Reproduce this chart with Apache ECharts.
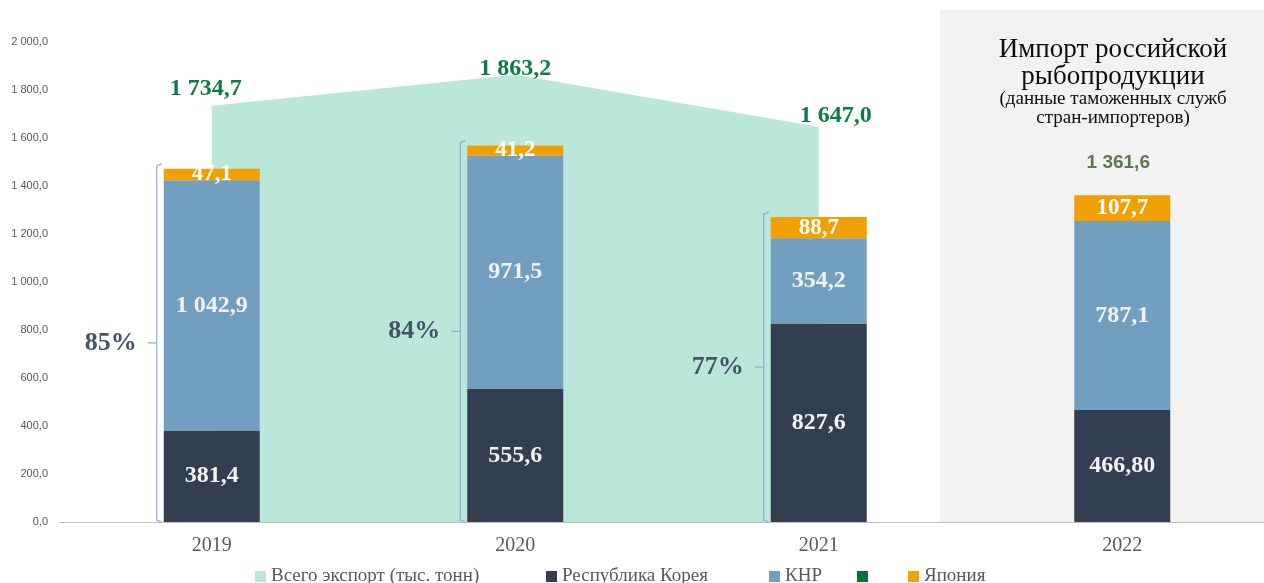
<!DOCTYPE html>
<html>
<head>
<meta charset="utf-8">
<script src="https://cdn.jsdelivr.net/npm/echarts@6/dist/echarts.min.js"></script>
<style>
  html, body { margin: 0; padding: 0; background: #fff; overflow: hidden; }
  #chart { width: 1274px; height: 583px; }
</style>
</head>
<body>
<div id="chart"></div>
<script>
const years = ['2019', '2020', '2021', '2022'];
const totalExport = [1734.7, 1863.2, 1647.0, '-'];
const korea = [381.4, 555.6, 827.6, 466.8];
const china = [1042.9, 971.5, 354.2, 787.1];
const japan = [47.1, 41.2, 88.7, 107.7];
const importTotal = ['-', '-', '-', 1361.6];
const bracketTotals = [1471.4, 1568.3, 1270.5];
const shareLabels = ['85%', '84%', '77%'];

const serif = '"Liberation Serif", "DejaVu Serif", serif';
const sans = '"Liberation Sans", Arial, sans-serif';

// "1 042,9" style numbers
function fmt(v, d) {
  const parts = Number(v).toFixed(d).split('.');
  parts[0] = parts[0].replace(/\B(?=(\d{3})+(?!\d))/g, ' ');
  return parts.join(',');
}

const barLabel = (color) => ({
  show: true,
  position: 'inside',
  color: color,
  fontFamily: serif,
  fontWeight: 'bold',
  fontSize: 24,
});

const chart = echarts.init(document.getElementById('chart'));

chart.setOption({
  animation: false,
  title: {
    text: 'Импорт российской\nрыбопродукции',
    subtext: '(данные таможенных служб\nстран-импортеров)',
    left: 1108,
    top: 31,
    textAlign: 'center',
    itemGap: 0,
    textStyle: { fontFamily: serif, fontSize: 27, fontWeight: 'normal', color: '#0d0d0d', lineHeight: 27 },
    subtextStyle: { fontFamily: serif, fontSize: 19, color: '#0d0d0d', lineHeight: 19 },
  },
  graphic: [
    { type: 'rect', z: -1, shape: { x: 940, y: 10, width: 340, height: 513 }, style: { fill: '#f2f2f2' } },
  ],
  legend: {
    left: 250,
    top: 562,
    itemGap: 35,
    itemWidth: 11,
    itemHeight: 11,
    icon: 'rect',
    data: [
      { name: 'Всего экспорт (тыс. тонн)', textStyle: { width: 240 } },
      { name: 'Республика Корея', textStyle: { width: 172 } },
      { name: 'КНР', textStyle: { width: 37 } },
      '\u200b',
      'Япония',
    ],
    textStyle: { fontFamily: serif, fontSize: 19, color: '#595959', lineHeight: 18 },
  },
  grid: { left: 60, top: 42, right: 0, height: 480 },
  xAxis: {
    type: 'category',
    data: years,
    axisLine: { lineStyle: { color: '#bfbfbf' } },
    axisTick: { show: false },
    axisLabel: { fontFamily: serif, fontSize: 20, color: '#595959', margin: 14 },
  },
  yAxis: {
    type: 'value',
    min: 0,
    max: 2000,
    interval: 200,
    splitLine: { show: false },
    axisLabel: {
      fontFamily: sans,
      fontSize: 11,
      color: '#595959',
      margin: 12,
      formatter: (v) => fmt(v, 1),
    },
  },
  series: [
    {
      name: 'Всего экспорт (тыс. тонн)',
      type: 'line',
      data: totalExport.map((v, i) => ({
        value: v,
        label: { offset: [[-6, 0], [0, 10], [17, 6]][i] || [0, 0] },
      })),
      symbol: 'circle',
      showSymbol: true,
      symbolSize: 1,
      lineStyle: { width: 0 },
      itemStyle: { color: '#bae7d9' },
      areaStyle: { color: '#bae7d9', opacity: 1 },
      z: 1,
      label: {
        show: true,
        position: 'top',
        distance: 4,
        color: '#0e7a44',
        fontFamily: serif,
        fontWeight: 'bold',
        fontSize: 24,
        formatter: (p) => fmt(p.value, 1),
      },
    },
    {
      name: 'Республика Корея',
      type: 'bar',
      stack: 'a',
      barWidth: 96,
      data: korea,
      itemStyle: { color: '#333f50' },
      label: Object.assign(barLabel('#f2f2f2'), {
        formatter: (p) => fmt(p.value, p.dataIndex === 3 ? 2 : 1),
      }),
      z: 3,
    },
    {
      name: 'КНР',
      type: 'bar',
      stack: 'a',
      data: china,
      itemStyle: { color: '#729fbf' },
      label: Object.assign(barLabel('#f2f2f2'), { formatter: (p) => fmt(p.value, 1) }),
      z: 3,
    },
    {
      name: '\u200b',
      type: 'bar',
      stack: 'a',
      data: [],
      itemStyle: { color: '#0a7038' },
    },
    {
      name: 'Япония',
      type: 'bar',
      stack: 'a',
      data: japan,
      itemStyle: { color: '#f2a000' },
      label: Object.assign(barLabel('#ffffff'), { fontSize: 23, formatter: (p) => fmt(p.value, 1) }),
      z: 3,
    },
    {
      name: 'import-total',
      type: 'scatter',
      data: importTotal,
      symbolSize: 0,
      label: {
        show: true,
        position: 'top',
        distance: 23,
        offset: [-4, 0],
        color: '#375623',
        fontFamily: sans,
        fontWeight: 'bold',
        fontSize: 19,
        formatter: (p) => fmt(p.value, 1),
      },
      z: 4,
    },
    {
      name: 'brackets',
      type: 'custom',
      data: bracketTotals.map((v, i) => [i, v]),
      z: 4,
      renderItem: (params, api) => {
        const top = api.coord([api.value(0), api.value(1)]);
        const bottom = api.coord([api.value(0), 0]);
        const x = top[0] - 55;
        const y0 = top[1] - 5;
        const y1 = bottom[1];
        const mid = (y0 + y1) / 2;
        const stroke = { stroke: '#8eaadb', lineWidth: 1.2, fill: null };
        return {
          type: 'group',
          children: [
            { type: 'polyline', shape: { points: [[x + 5, y0], [x, y0 + 2], [x, y1 - 2], [x + 5, y1]] }, style: stroke },
            { type: 'line', shape: { x1: x - 9, y1: mid, x2: x, y2: mid }, style: stroke },
            {
              type: 'text',
              style: {
                x: x - 20,
                y: mid,
                text: shareLabels[params.dataIndex],
                align: 'right',
                verticalAlign: 'middle',
                fill: '#44546a',
                font: 'bold 26px ' + serif,
              },
            },
          ],
        };
      },
    },
  ],
});
</script>
</body>
</html>
